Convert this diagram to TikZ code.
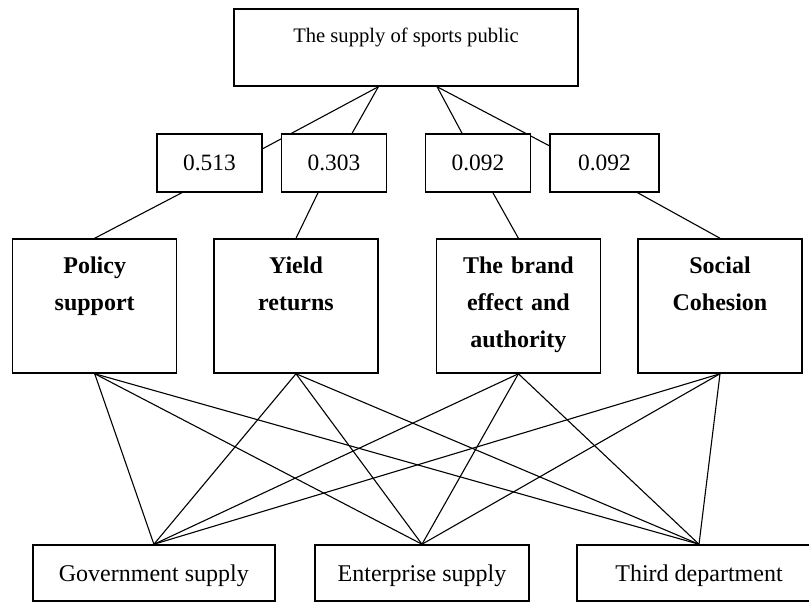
\documentclass[tikz,border=0pt]{standalone}
\usepackage{fontspec}
\setmainfont{Liberation Serif}
\usepackage{tikz}
\usetikzlibrary{calc,backgrounds}
\tikzset{topbox/.style={rectangle,draw,fill=white,line width=1.5pt,inner sep=0pt,minimum width=344pt,minimum height=77pt,text height=34pt,text depth=43pt,font=\fontsize{20.6}{25}\selectfont}}
\tikzset{wbox/.style={rectangle,draw,fill=white,line width=1.5pt,inner sep=0pt,minimum width=105pt,minimum height=58pt,font=\fontsize{23.4}{28}\selectfont}}
\tikzset{cbox/.style={rectangle,draw,fill=white,line width=1.5pt,inner sep=0pt,minimum width=164pt,minimum height=134pt,text width=150pt,align=center,text height=34pt,text depth=100pt,font=\bfseries\fontsize{24}{37}\selectfont}}
\tikzset{sbox/.style={rectangle,draw,fill=white,line width=1.5pt,inner sep=0pt,minimum height=56pt,text height=17pt,text depth=0pt,font=\fontsize{24}{29}\selectfont}}
\tikzset{link/.style={line width=1.1pt}}

\begin{document}
\begin{tikzpicture}[x=1pt,y=-1pt]
    \useasboundingbox (0,0) rectangle (809,602);
    \clip (0,0) rectangle (809,602);

    \node[topbox] (top)at (406,47.5) {The supply of sports public};

    \node[wbox] (w1)at (209.5,163) {0.513};
    \node[wbox] (w2)at (334,163) {0.303};
    \node[wbox] (w3)at (478,163) {0.092};
    \node[wbox,minimum width=109pt] (w4)at (604.5,163) {0.092};

    \node[cbox] (pol)at (94.7,306) {Policy\\support};
    \node[cbox] (yld)at (296,306) {Yield\\returns};
    \node[cbox] (brd)at (518.4,306) {The brand\\effect and\\authority};
    \node[cbox] (soc)at (720,306) {Social\\Cohesion};

    \node[sbox,minimum width=242pt] (gov)at (153.9,573) {Government supply};
    \node[sbox,minimum width=214pt] (ent)at (422,573) {Enterprise supply};
    \node[sbox,minimum width=244pt] (thd)at (699,573) {Third department};

    \begin{pgfonlayer}{background}
    \coordinate (tl) at ($(top.south west)!0.42!(top.south east)$);
    \coordinate (tr) at ($(top.south west)!0.59!(top.south east)$);
    \draw [link] (tl) to [] ($(w1.north east)!0.26!(w1.south east)$);
    \draw [link] (tl) to [] ($(w2.north west)!0.67!(w2.north east)$);
    \draw [link] (tr) to [] ($(w3.north west)!0.35!(w3.north east)$);
    \draw [link] (tr) to [] ($(w4.north west)!0.21!(w4.south west)$);

    \draw [link] ($(w1.south west)!0.24!(w1.south east)$) to [] (pol.north);
    \draw [link] ($(w2.south west)!0.35!(w2.south east)$) to [] (yld.north);
    \draw [link] ($(w3.south west)!0.64!(w3.south east)$) to [] (brd.north);
    \draw [link] ($(w4.south west)!0.8!(w4.south east)$) to [] (soc.north);

    \foreach \c in {pol,yld,brd,soc}
        \foreach \s in {gov,ent,thd}
            \draw [link] (\c.south) to [] (\s.north);
    \end{pgfonlayer}
\end{tikzpicture}
\end{document}
